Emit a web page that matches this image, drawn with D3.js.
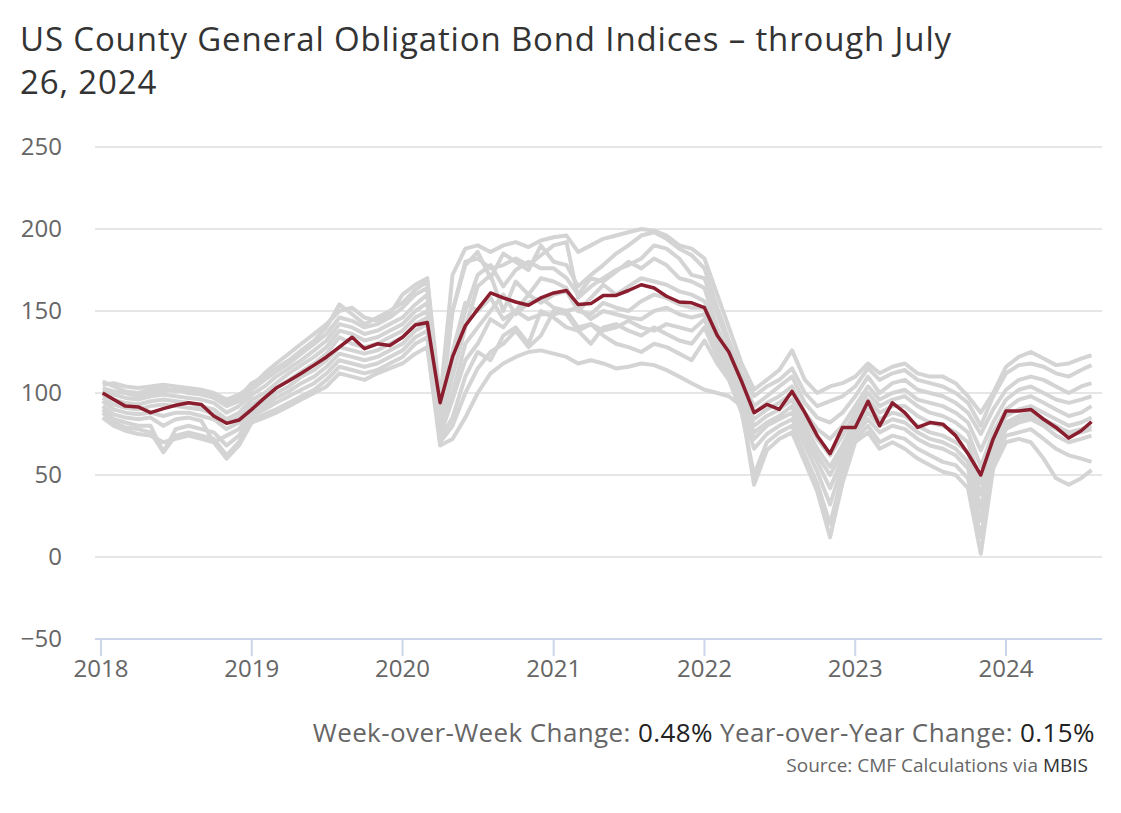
<!DOCTYPE html>
<html>
<head>
<meta charset="utf-8">
<script src="https://cdn.jsdelivr.net/npm/d3@7"></script>
<style>
  body { margin: 0; background: #fff; }
  svg { display: block; font-family: "Open Sans", sans-serif; }
</style>
</head>
<body>
<svg id="chart" width="1121" height="813"></svg>
<script>
// monthly observations, Jan 2018 .. Jul 2024, plus the last weekly print (Jul 26, 2024)
const firstDate = new Date(2018, 0, 5);
const lastDate = new Date(2024, 6, 26);

const yTicks = [-50, 0, 50, 100, 150, 200, 250];
const xTickYears = [2018, 2019, 2020, 2021, 2022, 2023, 2024];

// headline county index (red)
const countyIndex = [
  100, 96, 92, 91.5, 88, 90.5, 92.5, 94, 93, 86, 81.5, 83.5,
  90, 97, 103, 107.5, 112, 117, 122, 128, 134, 127, 130, 129,
  134, 141.5, 143, 94, 122, 141, 151, 161, 158, 155.5, 153.5, 158,
  161, 162.5, 154, 154.5, 159.5, 159.5, 162.5, 166, 164, 159, 155.5, 155,
  152, 135, 125, 107, 88, 93, 90, 101, 88, 74, 63, 79,
  79, 95, 80, 94, 88, 79, 82, 81, 74, 63, 50, 72,
  89, 89, 90, 84, 79, 72.5, 77, 82.5
];

// individual county indices (grey)
const county01 = [
  105, 106, 104, 103, 104, 105, 104, 103, 102, 100, 96, 99,
  104, 112, 118, 124, 130, 136, 142, 150, 152, 146, 144, 148,
  160, 166, 170, 96, 172, 188, 190, 186, 190, 192, 189, 193,
  195, 196, 186, 190, 194, 196, 198, 200, 199, 196, 190, 188,
  182, 160, 140, 118, 102, 108, 114, 126, 108, 100, 104, 106,
  110, 118, 112, 116, 118, 112, 110, 110, 106, 98, 88, 100,
  116, 122, 125, 121, 117, 118, 121, 123
];
const county02 = [
  107, 104, 101, 100, 102, 103, 101, 102, 100, 99, 94, 97,
  106, 110, 115, 120, 126, 132, 140, 154, 148, 142, 146, 150,
  155, 163, 168, 90, 150, 178, 186, 170, 185, 180, 175, 190,
  180, 178, 165, 172, 178, 185, 190, 196, 198, 194, 188, 184,
  176, 152, 132, 112, 98, 104, 108, 115, 100, 92, 95, 98,
  104, 115, 108, 112, 114, 108, 106, 104, 100, 94, 80, 98,
  112, 117, 118, 116, 112, 110, 114, 117
];
const county03 = [
  103, 101, 100, 98, 100, 101, 102, 100, 99, 97, 92, 95,
  102, 108, 113, 118, 124, 130, 136, 146, 144, 140, 142, 146,
  152, 160, 164, 85, 150, 180, 182, 176, 178, 182, 178, 184,
  190, 192, 158, 165, 170, 175, 178, 182, 190, 188, 182, 172,
  170, 148, 128, 108, 92, 98, 104, 110, 94, 85, 82, 88,
  98, 110, 100, 106, 108, 102, 100, 98, 94, 88, 75, 90,
  102, 108, 110, 108, 104, 100, 104, 106
];
const county04 = [
  101, 99, 97, 96, 98, 99, 98, 97, 96, 94, 88, 92,
  99, 104, 110, 115, 120, 126, 132, 142, 140, 136, 138, 142,
  146, 154, 160, 82, 120, 150, 172, 178, 165, 175, 180, 176,
  176, 170, 160, 170, 168, 174, 180, 176, 182, 178, 170, 168,
  164, 140, 122, 102, 88, 94, 98, 104, 88, 78, 72, 80,
  92, 104, 96, 100, 102, 96, 94, 92, 88, 82, 65, 82,
  96, 102, 104, 100, 96, 94, 96, 98
];
const county05 = [
  99, 96, 94, 93, 95, 96, 95, 94, 92, 90, 84, 88,
  96, 100, 106, 112, 117, 122, 128, 138, 136, 132, 134, 138,
  142, 150, 155, 80, 110, 140, 165, 172, 150, 168, 160, 170,
  168, 164, 150, 158, 166, 160, 165, 170, 168, 166, 162, 160,
  156, 136, 118, 98, 84, 90, 94, 100, 84, 72, 62, 74,
  88, 100, 92, 96, 98, 92, 88, 86, 82, 76, 55, 76,
  90, 96, 98, 94, 90, 86, 88, 92
];
const county06 = [
  97, 93, 91, 90, 92, 93, 92, 91, 90, 87, 82, 85,
  93, 97, 103, 108, 113, 118, 124, 134, 130, 128, 130, 134,
  138, 146, 150, 78, 125, 155, 150, 158, 145, 150, 160, 155,
  160, 162, 150, 148, 155, 152, 150, 156, 160, 158, 154, 152,
  152, 132, 116, 96, 80, 86, 90, 96, 80, 66, 55, 68,
  84, 96, 88, 92, 92, 86, 82, 80, 76, 70, 45, 72,
  86, 90, 92, 88, 84, 80, 82, 85
];
const county07 = [
  95, 90, 88, 87, 88, 86, 88, 88, 86, 84, 78, 82,
  90, 94, 100, 104, 110, 114, 120, 128, 126, 124, 126, 130,
  134, 142, 146, 75, 100, 130, 140, 150, 160, 148, 155, 158,
  152, 150, 152, 145, 150, 148, 146, 145, 150, 152, 148, 146,
  148, 128, 114, 94, 76, 82, 86, 92, 76, 62, 50, 64,
  80, 92, 84, 88, 86, 80, 76, 74, 70, 64, 38, 68,
  82, 86, 88, 84, 80, 76, 78, 80
];
const county08 = [
  92, 87, 85, 84, 85, 80, 84, 85, 83, 70, 74, 78,
  88, 92, 97, 101, 106, 110, 116, 124, 122, 120, 122, 126,
  130, 138, 142, 74, 96, 120, 130, 145, 140, 150, 145, 148,
  148, 150, 140, 142, 138, 140, 144, 140, 138, 142, 140, 138,
  145, 126, 112, 92, 72, 80, 84, 88, 72, 58, 42, 60,
  78, 88, 80, 84, 82, 76, 72, 70, 66, 58, 30, 64,
  80, 84, 86, 82, 78, 74, 76, 78
];
const county09 = [
  90, 84, 82, 80, 80, 64, 78, 80, 78, 76, 68, 74,
  86, 90, 94, 98, 102, 106, 112, 120, 118, 116, 118, 122,
  126, 134, 138, 72, 85, 110, 125, 120, 135, 140, 130, 150,
  146, 140, 138, 130, 140, 142, 138, 135, 140, 136, 132, 130,
  140, 122, 110, 90, 66, 75, 80, 84, 68, 52, 32, 56,
  75, 84, 76, 80, 78, 72, 68, 66, 62, 54, 22, 62,
  78, 82, 84, 80, 74, 70, 72, 74
];
const county10 = [
  88, 82, 79, 78, 76, 64, 74, 76, 74, 72, 62, 70,
  84, 87, 90, 94, 98, 102, 108, 116, 114, 112, 114, 118,
  122, 130, 134, 70, 80, 100, 115, 125, 130, 138, 128, 135,
  150, 148, 138, 142, 135, 130, 128, 125, 130, 128, 124, 120,
  132, 118, 108, 88, 50, 70, 76, 80, 62, 45, 20, 50,
  72, 80, 70, 74, 72, 66, 62, 58, 56, 48, 12, 58,
  74, 76, 78, 72, 66, 62, 60, 58
];
const county11 = [
  85, 80, 77, 75, 74, 70, 72, 74, 72, 70, 60, 68,
  82, 85, 88, 92, 96, 100, 104, 112, 110, 108, 112, 115,
  118, 124, 128, 68, 72, 85, 100, 112, 118, 122, 125, 126,
  124, 122, 118, 120, 118, 115, 116, 118, 117, 114, 110, 106,
  102, 100, 98, 92, 44, 65, 72, 76, 58, 40, 12, 45,
  70, 76, 66, 70, 66, 60, 56, 52, 50, 42, 2, 54,
  70, 72, 70, 60, 48, 44, 48, 53
];

const greySeries = [county01, county02, county03, county04, county05, county06,
  county07, county08, county09, county10, county11];

const weekChange = "0.48%";
const yearChange = "0.15%";

// --- DATES ---
const dates = [firstDate]
  .concat(d3.timeMonth.range(new Date(2018, 1, 1), new Date(2024, 6, 2)))
  .concat([lastDate]);

// --- SCALES ---
const plotLeft = 95, plotRight = 1102;
const x = d3.scaleTime()
  .domain([new Date(2018, 0, 1), new Date(2024, 0, 1)])
  .range([101, 1006]);
const y = d3.scaleLinear().domain([-50, 250]).range([639, 147]);

const svg = d3.select("#chart");

// --- TITLE ---
const title = svg.append("text")
  .attr("x", 20)
  .attr("fill", "#333")
  .attr("font-size", "33px")
  .attr("letter-spacing", "0.85px");
title.append("tspan").attr("x", 20).attr("y", 51).text("US County General Obligation Bond Indices – through July");
title.append("tspan").attr("x", 20).attr("y", 94).text("26, 2024");

// --- GRID + Y LABELS ---
const grid = svg.append("g");
grid.selectAll("line")
  .data(yTicks.filter(d => d !== -50))
  .join("line")
  .attr("x1", plotLeft).attr("x2", plotRight)
  .attr("y1", d => y(d)).attr("y2", d => y(d))
  .attr("stroke", "#e6e6e6").attr("stroke-width", 2);

svg.append("g").selectAll("text")
  .data(yTicks)
  .join("text")
  .attr("x", 62)
  .attr("y", d => y(d))
  .attr("dy", "0.35em")
  .attr("text-anchor", "end")
  .attr("fill", "#666")
  .attr("font-size", "24px")
  .text(d => d < 0 ? "−" + Math.abs(d) : d);

// --- SERIES ---
const line = d3.line()
  .x((d, i) => x(dates[i]))
  .y(d => y(d));

svg.append("g")
  .selectAll("path")
  .data(greySeries)
  .join("path")
  .attr("d", line)
  .attr("fill", "none")
  .attr("stroke", "#d4d4d4")
  .attr("stroke-width", 4)
  .attr("stroke-linejoin", "round");

svg.append("path")
  .attr("d", line(countyIndex))
  .attr("fill", "none")
  .attr("stroke", "#8a1e2e")
  .attr("stroke-width", 3.5)
  .attr("stroke-linejoin", "round");

// --- X AXIS ---
const xAxis = svg.append("g");
xAxis.append("line")
  .attr("x1", plotLeft).attr("x2", plotRight)
  .attr("y1", 639).attr("y2", 639)
  .attr("stroke", "#ccd6eb").attr("stroke-width", 2);

const yearDates = xTickYears.map(yr => new Date(yr, 0, 1));
xAxis.selectAll(".tick")
  .data(yearDates)
  .join("line")
  .attr("class", "tick")
  .attr("x1", d => x(d)).attr("x2", d => x(d))
  .attr("y1", 639).attr("y2", 656)
  .attr("stroke", "#ccd6eb").attr("stroke-width", 2);

xAxis.selectAll(".tick-label")
  .data(yearDates)
  .join("text")
  .attr("class", "tick-label")
  .attr("x", d => x(d))
  .attr("y", 677)
  .attr("text-anchor", "middle")
  .attr("fill", "#666")
  .attr("font-size", "24px")
  .text(d => d3.timeFormat("%Y")(d));

// --- FOOTER ---
const changes = svg.append("text")
  .attr("x", 1095).attr("y", 742)
  .attr("text-anchor", "end")
  .attr("font-size", "26px")
  .attr("letter-spacing", "0.4px")
  .attr("fill", "#666");
changes.append("tspan").text("Week-over-Week Change: ");
changes.append("tspan").attr("fill", "#222").text(weekChange);
changes.append("tspan").text(" Year-over-Year Change: ");
changes.append("tspan").attr("fill", "#222").text(yearChange);

const source = svg.append("text")
  .attr("x", 1088).attr("y", 772)
  .attr("text-anchor", "end")
  .attr("font-size", "19px")
  .attr("fill", "#666");
source.append("tspan").text("Source: CMF Calculations via ");
source.append("tspan").attr("fill", "#333").text("MBIS");
</script>
</body>
</html>
